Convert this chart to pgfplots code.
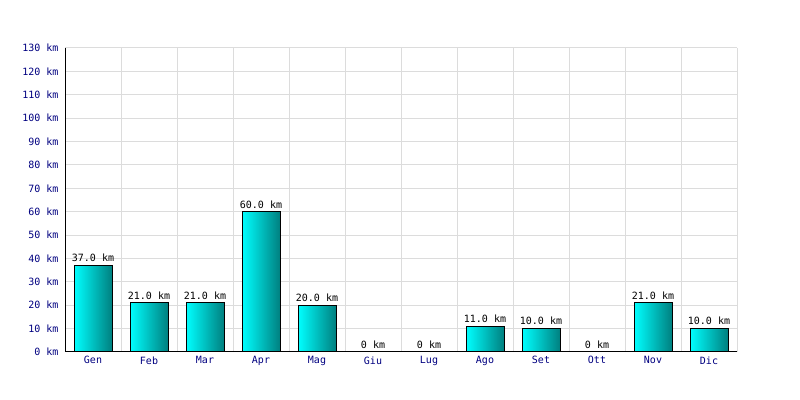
\documentclass[border=0pt]{standalone}
\usepackage{pgfplots}
\pgfplotsset{compat=1.18}
\usepackage{fontspec}
\setmainfont{DejaVu Sans Mono}
\definecolor{navytick}{RGB}{0,0,128}
\definecolor{gridgray}{RGB}{220,220,220}
\definecolor{barleft}{RGB}{0,255,255}
\definecolor{barright}{RGB}{0,128,128}
\pgfplotsset{
  mybar/.style={ybar, bar width=38bp, bar shift=0pt, draw=black, line width=1bp,
    left color=barleft, right color=barright,
    nodes near coords, point meta=explicit symbolic,
    every node near coord/.style={font=\fontsize{10bp}{12bp}\selectfont, text=black, anchor=south, inner sep=2bp, yshift=1bp}},
}
\begin{document}
\begin{tikzpicture}
\begin{axis}[
  at={(65bp,48bp)}, anchor=south west,
  scale only axis, width=672bp, height=304bp,
  xmin=-0.5, xmax=11.5, ymin=0, ymax=130,
  xtick={0,...,11},
  xticklabels={Gen,Feb,Mar,Apr,Mag,Giu,Lug,Ago,Set,Ott,Nov,Dic},
  minor xtick={-0.5,0.5,...,11.5},
  ytick={0,10,...,130},
  yticklabel={\pgfmathprintnumber{\tick} km},
  /pgf/number format/assume math mode=true,
  xminorgrids, ymajorgrids,
  grid style={gridgray, line width=1bp},
  minor grid style={gridgray, line width=1bp},
  major tick length=0pt, minor tick length=0pt,
  axis x line*=bottom, axis y line*=left,
  axis line style={black, line width=1bp, -},
  tick label style={font=\fontsize{10bp}{12bp}\selectfont, text=navytick},
  yticklabel style={xshift=-3bp},
  xticklabel style={yshift=-1bp},
  tick style={draw=none},
  clip=false,
  axis on top=false,
]
\addplot[mybar] coordinates {(0,37) [37.0 km]};
\addplot[mybar] coordinates {(1,21) [21.0 km]};
\addplot[mybar] coordinates {(2,21) [21.0 km]};
\addplot[mybar] coordinates {(3,60) [60.0 km]};
\addplot[mybar] coordinates {(4,20) [20.0 km]};
\addplot[mybar] coordinates {(5,0) [0 km]};
\addplot[mybar] coordinates {(6,0) [0 km]};
\addplot[mybar] coordinates {(7,11) [11.0 km]};
\addplot[mybar] coordinates {(8,10) [10.0 km]};
\addplot[mybar] coordinates {(9,0) [0 km]};
\addplot[mybar] coordinates {(10,21) [21.0 km]};
\addplot[mybar] coordinates {(11,10) [10.0 km]};
\end{axis}
\pgfresetboundingbox
\path (0,0) rectangle (800bp,400bp);
\end{tikzpicture}
\end{document}
